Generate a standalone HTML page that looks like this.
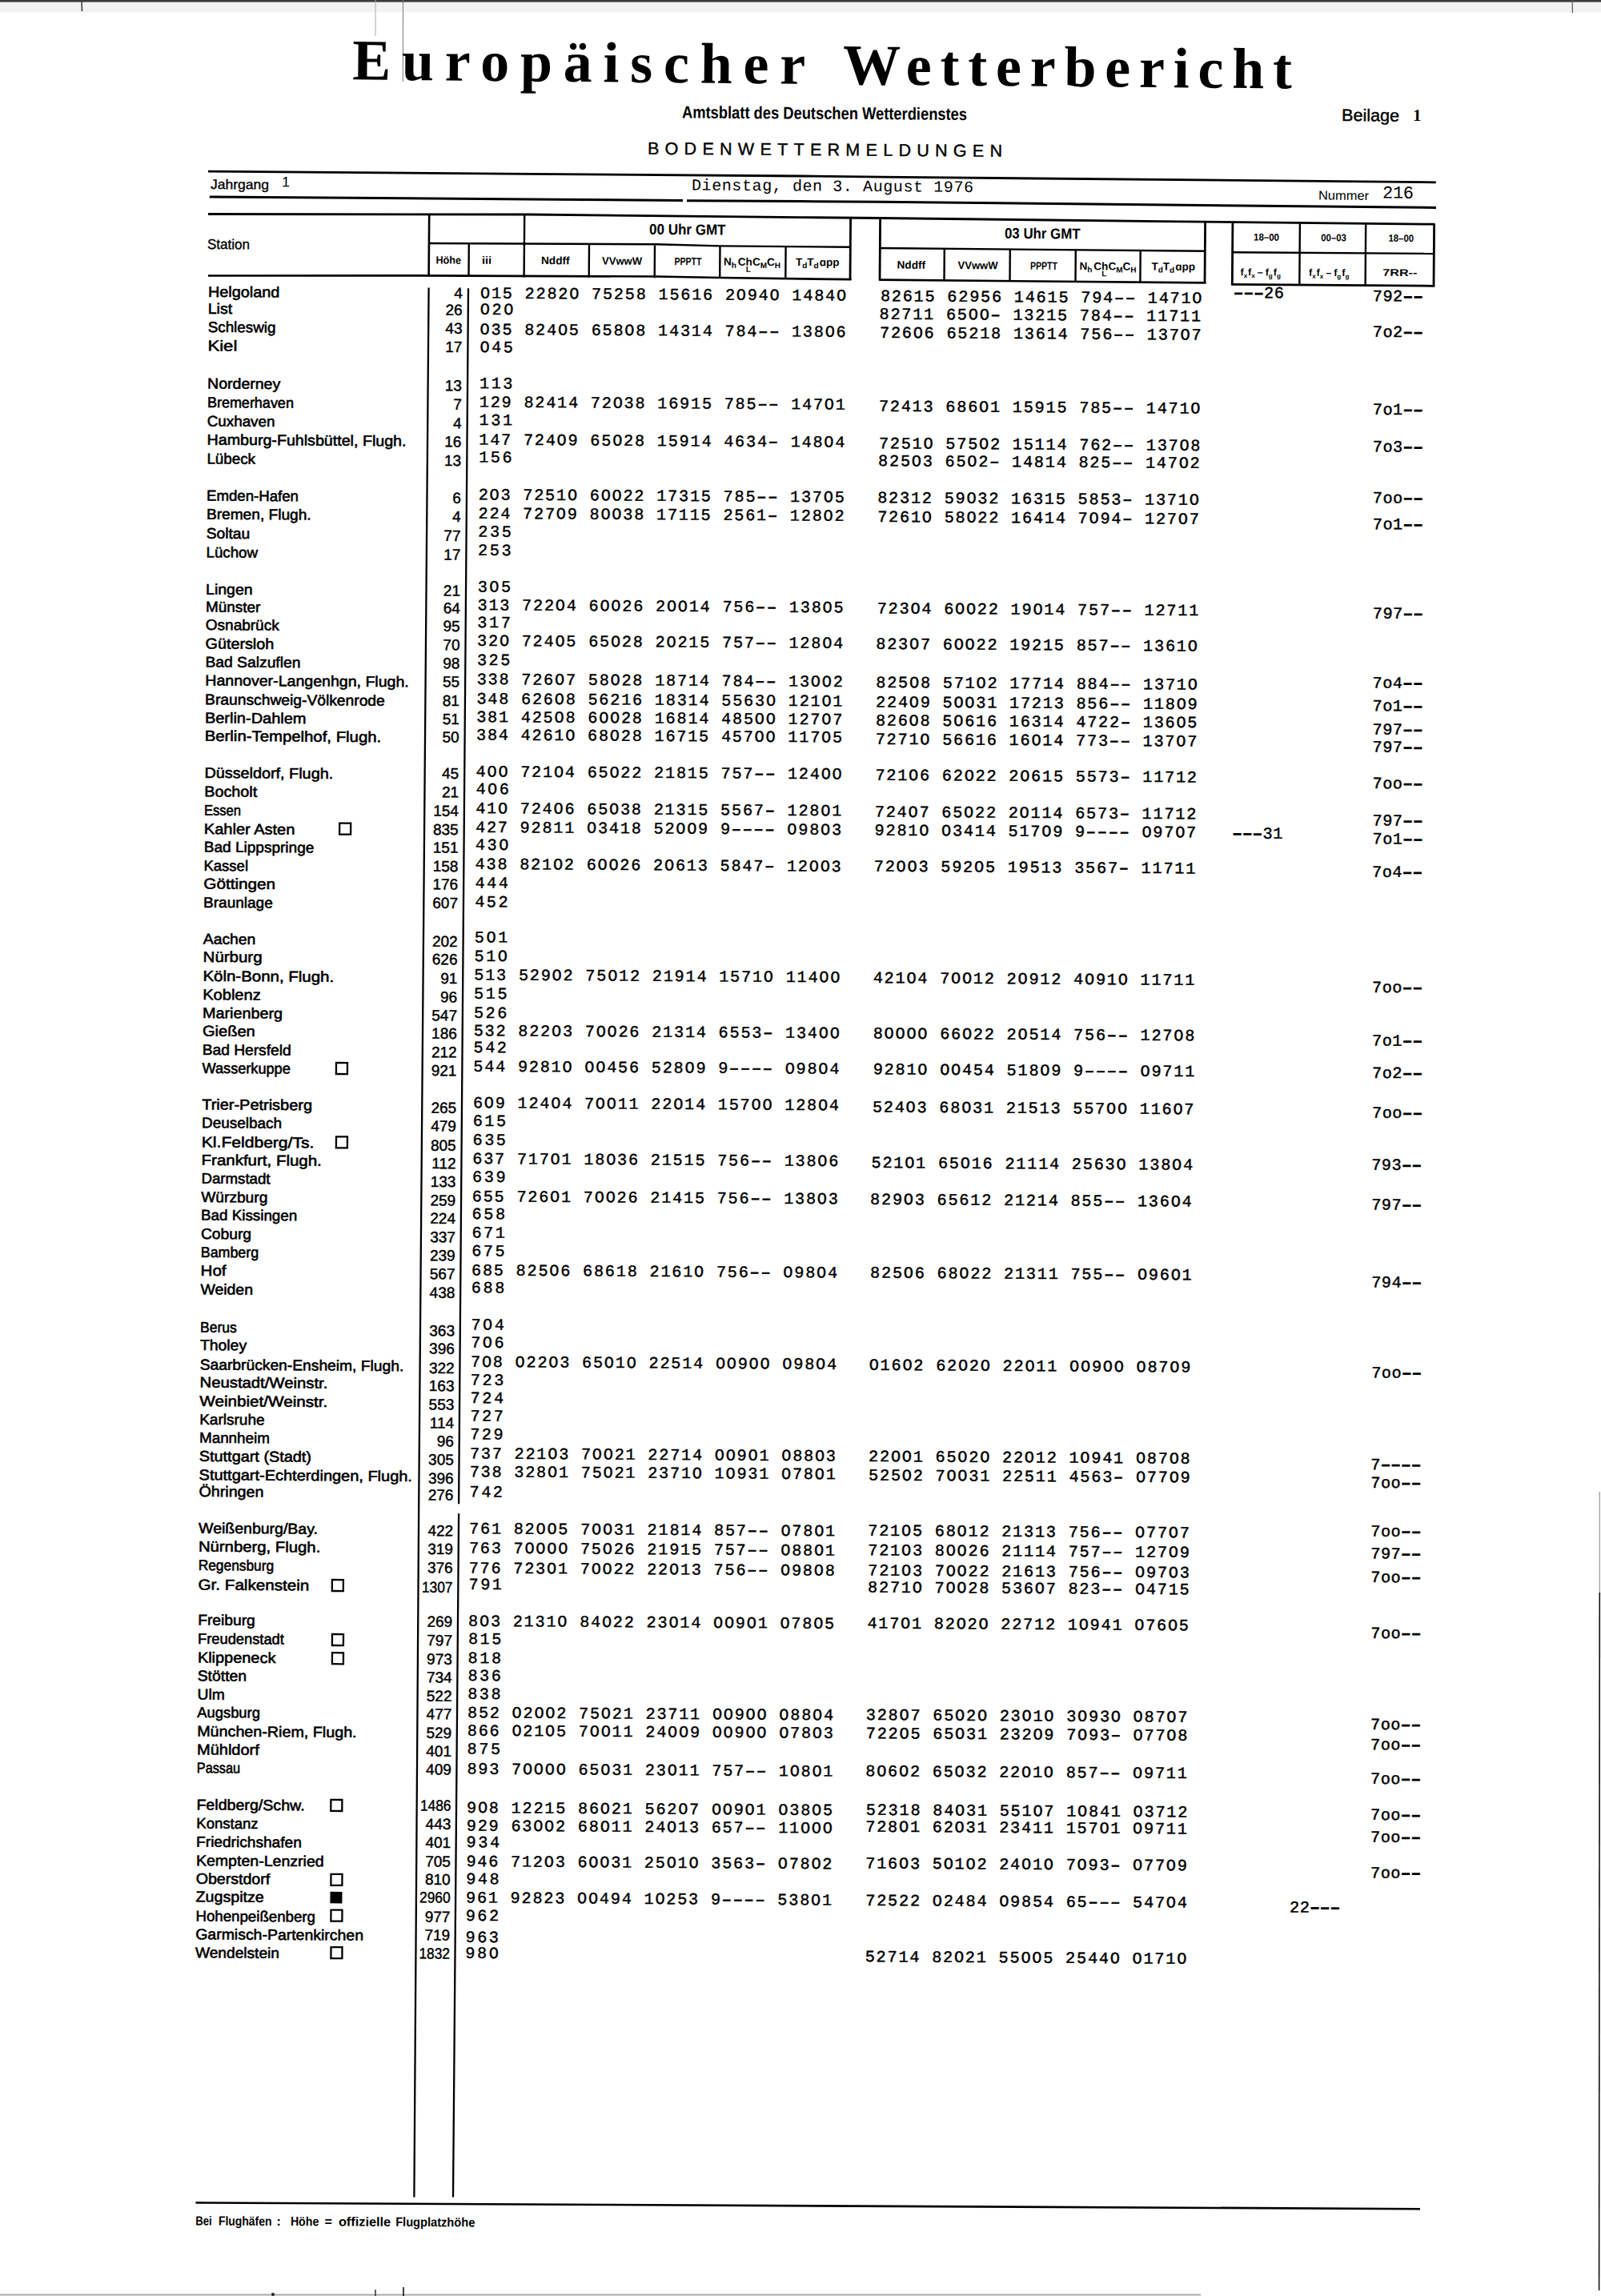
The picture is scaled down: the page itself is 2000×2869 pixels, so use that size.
<!DOCTYPE html>
<html><head><meta charset="utf-8"><title>Europäischer Wetterbericht</title>
<style>
html,body{margin:0;padding:0;background:#fff;}
svg{display:block;}
text{fill:#000;}
.title{font-family:"Liberation Serif",serif;font-weight:bold;font-size:72px;}
.amts{font-family:"Liberation Sans",sans-serif;font-weight:bold;font-size:21.5px;}
.boden{font-family:"Liberation Sans",sans-serif;font-size:21.5px;stroke:#000;stroke-width:0.4px;}
.beil{font-family:"Liberation Sans",sans-serif;font-size:21px;stroke:#000;stroke-width:0.4px;}
.beil1{font-family:"Liberation Serif",serif;font-size:21px;font-weight:bold;}
.jahr{font-family:"Liberation Sans",sans-serif;font-size:17px;stroke:#000;stroke-width:0.35px;}
.jahr1{font-family:"Liberation Sans",sans-serif;font-size:18px;}
.date{font-family:"Liberation Mono",monospace;font-size:20px;}
.numm{font-family:"Liberation Sans",sans-serif;font-size:16px;}
.n216{font-family:"Liberation Mono",monospace;font-size:22px;}
.stat{font-family:"Liberation Sans",sans-serif;font-size:17.5px;stroke:#000;stroke-width:0.35px;}
.hl{font-family:"Liberation Sans",sans-serif;font-weight:bold;font-size:13.5px;}
.sub{font-size:10px;}
.sub2{font-size:8px;}
.gmt{font-family:"Liberation Sans",sans-serif;font-weight:bold;font-size:18.5px;}
.bx{font-family:"Liberation Sans",sans-serif;font-weight:bold;font-size:12.5px;}
.bx2{font-family:"Liberation Sans",sans-serif;font-weight:bold;font-size:12.5px;}
.st{font-family:"Liberation Sans",sans-serif;font-size:18.5px;stroke:#000;stroke-width:0.6px;}
.ho{font-family:"Liberation Sans",sans-serif;font-size:19px;stroke:#000;stroke-width:0.45px;}
.mo,.m3,.rr{font-family:"Liberation Mono",monospace;font-size:20.2px;stroke:#000;stroke-width:0.4px;}
.m3{stroke-width:0.45px;}
.d{stroke-width:0.9px;}
.d2{stroke-width:1.4px;}
.rr{stroke-width:0.45px;}
.foot{font-family:"Liberation Sans",sans-serif;font-weight:bold;font-size:16px;}
</style></head>
<body><svg width="2000" height="2869" viewBox="0 0 2000 2869">
<rect x="0" y="2.5" width="2000" height="13" fill="#f3f3f3"/>
<rect x="0" y="0" width="2000" height="2.6" fill="#3c3c3c"/>
<line x1="102.0" y1="2.0" x2="102.5" y2="14.0" stroke="#333" stroke-width="1.5"/>
<line x1="503.5" y1="0.0" x2="503.3" y2="102.0" stroke="#777" stroke-width="1.0"/>
<line x1="469.0" y1="0.0" x2="469.0" y2="45.0" stroke="#aaa" stroke-width="1.0"/>
<line x1="0.0" y1="2867.6" x2="1500.0" y2="2867.6" stroke="#aaa" stroke-width="2.0"/>
<line x1="1998.3" y1="1864.0" x2="1998.3" y2="1990.0" stroke="#999" stroke-width="1.2"/>
<line x1="1998.3" y1="1990.0" x2="1997.6" y2="2862.0" stroke="#111" stroke-width="1.6"/>
<line x1="1964.0" y1="0.0" x2="1964.5" y2="16.0" stroke="#555" stroke-width="1.2"/>
<line x1="469.0" y1="2861.0" x2="469.0" y2="2869.0" stroke="#222" stroke-width="1.4"/>
<line x1="504.0" y1="2858.0" x2="504.0" y2="2869.0" stroke="#111" stroke-width="1.6"/>
<circle cx="341" cy="2867" r="2" fill="#222"/>
<text x="440.0" y="99.3" class="title" textLength="566.0" lengthAdjust="spacing" transform="rotate(0.550 440.0 99.3)">Europäischer</text>
<text x="1052.7" y="105.2" class="title" textLength="561.0" lengthAdjust="spacing" transform="rotate(0.550 1052.7 105.2)">Wetterbericht</text>
<text x="852.0" y="147.5" class="amts" textLength="356.0" lengthAdjust="spacingAndGlyphs" transform="rotate(0.401 852.0 147.5)">Amtsblatt des Deutschen Wetterdienstes</text>
<text x="809.0" y="192.8" class="boden" textLength="443.0" lengthAdjust="spacing" transform="rotate(0.401 809.0 192.8)">BODENWETTERMELDUNGEN</text>
<text x="1676.0" y="151.0" class="beil" textLength="72.0" lengthAdjust="spacingAndGlyphs" transform="rotate(0.401 1676.0 151.0)">Beilage</text>
<text x="1765.0" y="151.0" class="beil1" transform="rotate(0.401 1765.0 151.0)">1</text>
<polyline points="260.0,214.2 660.0,217.4 1000.0,220.0 1100.0,221.1 1793.8,227.8" fill="none" stroke="#000" stroke-width="2.8"/>
<polyline points="261.8,246.0 660.0,249.0 853.0,250.6" fill="none" stroke="#000" stroke-width="3.0"/>
<polyline points="858.0,250.7 1000.0,251.6 1100.0,252.2 1794.0,259.5" fill="none" stroke="#000" stroke-width="3.0"/>
<text x="263.0" y="236.0" class="jahr" textLength="73.0" lengthAdjust="spacingAndGlyphs" transform="rotate(0.401 263.0 236.0)">Jahrgang</text>
<text x="352.0" y="233.2" class="jahr1" transform="rotate(0.401 352.0 233.2)">1</text>
<text x="864.0" y="237.5" class="date" textLength="352.0" lengthAdjust="spacing" transform="rotate(0.401 864.0 237.5)">Dienstag, den 3. August 1976</text>
<text x="1647.0" y="249.5" class="numm" textLength="63.0" lengthAdjust="spacingAndGlyphs" transform="rotate(0.401 1647.0 249.5)">Nummer</text>
<text x="1727.0" y="247.5" class="n216" textLength="39.0" lengthAdjust="spacing" transform="rotate(0.401 1727.0 247.5)">216</text>
<polyline points="260.0,267.5 660.0,268.0 1000.0,271.6 1100.0,272.5 1450.0,276.6 1792.5,280.2" fill="none" stroke="#000" stroke-width="2.8"/>
<text x="259.0" y="311.0" class="stat" textLength="53.0" lengthAdjust="spacingAndGlyphs" transform="rotate(0.401 259.0 311.0)">Station</text>
<polyline points="260.0,344.5 520.0,344.3 820.0,345.5 900.0,347.0 1063.5,349.2" fill="none" stroke="#000" stroke-width="2.7"/>
<line x1="1098.5" y1="349.6" x2="1506.5" y2="353.4" stroke="#000" stroke-width="2.6"/>
<line x1="1538.7" y1="355.3" x2="1792.4" y2="357.3" stroke="#000" stroke-width="2.8"/>
<polyline points="536.0,304.0 820.0,305.2 900.0,307.4 1063.0,308.8" fill="none" stroke="#000" stroke-width="2.4"/>
<line x1="1099.0" y1="310.0" x2="1506.0" y2="313.8" stroke="#000" stroke-width="2.4"/>
<line x1="1539.5" y1="315.2" x2="1792.0" y2="317.0" stroke="#000" stroke-width="2.4"/>
<line x1="536.2" y1="267.3" x2="535.6" y2="345.6" stroke="#000" stroke-width="2.6"/>
<line x1="585.8" y1="304.0" x2="585.5" y2="346.0" stroke="#000" stroke-width="2.4"/>
<line x1="655.2" y1="268.6" x2="654.6" y2="346.5" stroke="#000" stroke-width="2.4"/>
<line x1="736.0" y1="305.5" x2="735.7" y2="346.6" stroke="#000" stroke-width="2.4"/>
<line x1="818.0" y1="306.5" x2="817.7" y2="347.2" stroke="#000" stroke-width="2.4"/>
<line x1="899.5" y1="307.2" x2="899.2" y2="347.8" stroke="#000" stroke-width="2.4"/>
<line x1="981.6" y1="308.0" x2="981.3" y2="348.3" stroke="#000" stroke-width="2.4"/>
<line x1="1062.6" y1="272.0" x2="1062.0" y2="349.8" stroke="#000" stroke-width="2.8"/>
<line x1="1099.6" y1="272.5" x2="1099.0" y2="350.4" stroke="#000" stroke-width="2.8"/>
<line x1="1179.8" y1="310.2" x2="1179.5" y2="350.8" stroke="#000" stroke-width="2.4"/>
<line x1="1261.8" y1="310.8" x2="1261.5" y2="351.4" stroke="#000" stroke-width="2.4"/>
<line x1="1343.8" y1="311.5" x2="1343.5" y2="352.2" stroke="#000" stroke-width="2.4"/>
<line x1="1424.7" y1="312.2" x2="1424.4" y2="352.8" stroke="#000" stroke-width="2.4"/>
<line x1="1505.6" y1="276.3" x2="1505.0" y2="353.8" stroke="#000" stroke-width="2.8"/>
<line x1="1539.9" y1="278.8" x2="1539.3" y2="356.5" stroke="#000" stroke-width="2.8"/>
<line x1="1623.9" y1="279.5" x2="1623.3" y2="356.8" stroke="#000" stroke-width="2.4"/>
<line x1="1706.2" y1="280.0" x2="1705.6" y2="357.0" stroke="#000" stroke-width="2.4"/>
<line x1="1791.6" y1="280.0" x2="1791.0" y2="357.5" stroke="#000" stroke-width="2.8"/>
<text x="544.5" y="329.5" class="hl" textLength="31.5" lengthAdjust="spacingAndGlyphs" transform="rotate(0.401 544.5 329.5)">Höhe</text>
<text x="602.0" y="329.8" class="hl" textLength="12.0" lengthAdjust="spacingAndGlyphs" transform="rotate(0.401 602.0 329.8)">iii</text>
<text x="676.0" y="330.0" class="hl" textLength="35.5" lengthAdjust="spacingAndGlyphs" transform="rotate(0.401 676.0 330.0)">Nddff</text>
<text x="752.0" y="330.6" class="hl" textLength="50.0" lengthAdjust="spacingAndGlyphs" transform="rotate(0.401 752.0 330.6)">VVwwW</text>
<text x="842.5" y="331.2" class="hl" textLength="34.0" lengthAdjust="spacingAndGlyphs" transform="rotate(0.401 842.5 331.2)">PPPTT</text>
<text x="904.0" y="331.6" class="hl" transform="rotate(0.401 904.0 331.6)">N<tspan class="sub" dy="3">h</tspan><tspan dy="-3" dx="2">C</tspan>h<tspan class="sub" dx="-8" dy="8">L</tspan><tspan dy="-8" dx="2">C</tspan><tspan class="sub" dy="3">M</tspan><tspan dy="-3">C</tspan><tspan class="sub" dy="3">H</tspan></text>
<text x="994.0" y="332.0" class="hl" transform="rotate(0.401 994.0 332.0)">T<tspan class="sub" dy="3">d</tspan><tspan dy="-3">T</tspan><tspan class="sub" dy="3">d</tspan><tspan dy="-3" dx="1">ɑpp</tspan></text>
<text x="1120.5" y="335.5" class="hl" textLength="35.5" lengthAdjust="spacingAndGlyphs" transform="rotate(0.401 1120.5 335.5)">Nddff</text>
<text x="1196.5" y="336.1" class="hl" textLength="50.0" lengthAdjust="spacingAndGlyphs" transform="rotate(0.401 1196.5 336.1)">VVwwW</text>
<text x="1287.0" y="336.7" class="hl" textLength="34.0" lengthAdjust="spacingAndGlyphs" transform="rotate(0.401 1287.0 336.7)">PPPTT</text>
<text x="1348.5" y="337.1" class="hl" transform="rotate(0.401 1348.5 337.1)">N<tspan class="sub" dy="3">h</tspan><tspan dy="-3" dx="2">C</tspan>h<tspan class="sub" dx="-8" dy="8">L</tspan><tspan dy="-8" dx="2">C</tspan><tspan class="sub" dy="3">M</tspan><tspan dy="-3">C</tspan><tspan class="sub" dy="3">H</tspan></text>
<text x="1438.5" y="337.5" class="hl" transform="rotate(0.401 1438.5 337.5)">T<tspan class="sub" dy="3">d</tspan><tspan dy="-3">T</tspan><tspan class="sub" dy="3">d</tspan><tspan dy="-3" dx="1">ɑpp</tspan></text>
<text x="811.0" y="292.8" class="gmt" textLength="95.5" lengthAdjust="spacingAndGlyphs" transform="rotate(0.401 811.0 292.8)">00 Uhr GMT</text>
<text x="1255.0" y="297.8" class="gmt" textLength="94.5" lengthAdjust="spacingAndGlyphs" transform="rotate(0.401 1255.0 297.8)">03 Uhr GMT</text>
<text x="1566.0" y="300.5" class="bx" textLength="32.0" lengthAdjust="spacingAndGlyphs" transform="rotate(0.401 1566.0 300.5)">18–00</text>
<text x="1650.3" y="301.2" class="bx" textLength="31.5" lengthAdjust="spacingAndGlyphs" transform="rotate(0.401 1650.3 301.2)">00–03</text>
<text x="1734.5" y="301.8" class="bx" textLength="31.5" lengthAdjust="spacingAndGlyphs" transform="rotate(0.401 1734.5 301.8)">18–00</text>
<text x="1549.5" y="344.2" class="bx2" transform="rotate(0.401 1549.5 344.2)">f<tspan class="sub2" dy="3">x</tspan><tspan dy="-3" dx="1">f</tspan><tspan class="sub2" dy="3">x</tspan><tspan dy="-3" dx="3">–</tspan><tspan dx="3">f</tspan><tspan class="sub2" dy="3">g</tspan><tspan dy="-3" dx="1">f</tspan><tspan class="sub2" dy="3">g</tspan></text>
<text x="1635.0" y="344.8" class="bx2" transform="rotate(0.401 1635.0 344.8)">f<tspan class="sub2" dy="3">x</tspan><tspan dy="-3" dx="1">f</tspan><tspan class="sub2" dy="3">x</tspan><tspan dy="-3" dx="3">–</tspan><tspan dx="3">f</tspan><tspan class="sub2" dy="3">g</tspan><tspan dy="-3" dx="1">f</tspan><tspan class="sub2" dy="3">g</tspan></text>
<text x="1727.3" y="344.8" class="bx" textLength="43.0" lengthAdjust="spacingAndGlyphs" transform="rotate(0.401 1727.3 344.8)">7RR--</text>
<text x="260.0" y="370.9" class="st" textLength="89.3" lengthAdjust="spacingAndGlyphs" transform="rotate(0.401 260.0 370.9)">Helgoland</text>
<text x="577.8" y="372.8" class="ho" text-anchor="end" transform="rotate(0.401 577.8 372.8)">4</text>
<text x="600.0" y="372.5" class="mo" textLength="457.1" lengthAdjust="spacing" transform="rotate(0.401 600.0 372.5)">O15 2282O 75258 15616 2O94O 1484O</text>
<text x="259.8" y="391.9" class="st" textLength="30.3" lengthAdjust="spacingAndGlyphs" transform="rotate(0.401 259.8 391.9)">List</text>
<text x="577.6" y="393.8" class="ho" text-anchor="end" transform="rotate(0.401 577.6 393.8)">26</text>
<text x="599.8" y="392.8" class="mo" textLength="41.5" lengthAdjust="spacing" transform="rotate(0.401 599.8 392.8)">O2O</text>
<text x="259.7" y="414.9" class="st" textLength="84.7" lengthAdjust="spacingAndGlyphs" transform="rotate(0.401 259.7 414.9)">Schleswig</text>
<text x="577.5" y="416.8" class="ho" text-anchor="end" transform="rotate(0.401 577.5 416.8)">43</text>
<text x="599.6" y="417.8" class="mo" textLength="457.1" lengthAdjust="spacing" transform="rotate(0.401 599.6 417.8)">O35 824O5 658O8 14314 784<tspan class="d">––</tspan> 138O6</text>
<text x="259.5" y="438.3" class="st" textLength="36.8" lengthAdjust="spacingAndGlyphs" transform="rotate(0.401 259.5 438.3)">Kiel</text>
<text x="577.3" y="440.2" class="ho" text-anchor="end" transform="rotate(0.401 577.3 440.2)">17</text>
<text x="599.4" y="440.0" class="mo" textLength="41.5" lengthAdjust="spacing" transform="rotate(0.401 599.4 440.0)">O45</text>
<text x="259.1" y="485.5" class="st" textLength="91.1" lengthAdjust="spacingAndGlyphs" transform="rotate(0.401 259.1 485.5)">Norderney</text>
<text x="576.9" y="488.3" class="ho" text-anchor="end" transform="rotate(0.401 576.9 488.3)">13</text>
<text x="599.0" y="485.2" class="mo" textLength="41.5" lengthAdjust="spacing" transform="rotate(0.401 599.0 485.2)">113</text>
<text x="258.9" y="509.1" class="st" textLength="108.0" lengthAdjust="spacingAndGlyphs" transform="rotate(0.401 258.9 509.1)">Bremerhaven</text>
<text x="576.8" y="511.9" class="ho" text-anchor="end" transform="rotate(0.401 576.8 511.9)">7</text>
<text x="598.8" y="508.6" class="mo" textLength="457.1" lengthAdjust="spacing" transform="rotate(0.401 598.8 508.6)">129 82414 72O38 16915 785<tspan class="d">––</tspan> 147O1</text>
<text x="258.8" y="532.5" class="st" textLength="84.6" lengthAdjust="spacingAndGlyphs" transform="rotate(0.401 258.8 532.5)">Cuxhaven</text>
<text x="576.6" y="535.3" class="ho" text-anchor="end" transform="rotate(0.401 576.6 535.3)">4</text>
<text x="598.6" y="531.1" class="mo" textLength="41.5" lengthAdjust="spacing" transform="rotate(0.401 598.6 531.1)">131</text>
<text x="258.6" y="555.7" class="st" textLength="248.9" lengthAdjust="spacingAndGlyphs" transform="rotate(0.401 258.6 555.7)">Hamburg-Fuhlsbüttel, Flugh.</text>
<text x="576.4" y="558.5" class="ho" text-anchor="end" transform="rotate(0.401 576.4 558.5)">16</text>
<text x="598.3" y="555.6" class="mo" textLength="457.1" lengthAdjust="spacing" transform="rotate(0.401 598.3 555.6)">147 724O9 65O28 15914 4634<tspan class="d">–</tspan> 148O4</text>
<text x="258.4" y="579.4" class="st" textLength="60.6" lengthAdjust="spacingAndGlyphs" transform="rotate(0.401 258.4 579.4)">Lübeck</text>
<text x="576.2" y="582.2" class="ho" text-anchor="end" transform="rotate(0.401 576.2 582.2)">13</text>
<text x="598.2" y="577.5" class="mo" textLength="41.5" lengthAdjust="spacing" transform="rotate(0.401 598.2 577.5)">156</text>
<text x="258.0" y="625.6" class="st" textLength="114.9" lengthAdjust="spacingAndGlyphs" transform="rotate(0.401 258.0 625.6)">Emden-Hafen</text>
<text x="575.9" y="628.9" class="ho" text-anchor="end" transform="rotate(0.401 575.9 628.9)">6</text>
<text x="597.7" y="624.3" class="mo" textLength="457.1" lengthAdjust="spacing" transform="rotate(0.401 597.7 624.3)">2O3 7251O 6OO22 17315 785<tspan class="d">––</tspan> 137O5</text>
<text x="257.9" y="648.7" class="st" textLength="130.8" lengthAdjust="spacingAndGlyphs" transform="rotate(0.401 257.9 648.7)">Bremen, Flugh.</text>
<text x="575.7" y="652.0" class="ho" text-anchor="end" transform="rotate(0.401 575.7 652.0)">4</text>
<text x="597.5" y="647.7" class="mo" textLength="457.1" lengthAdjust="spacing" transform="rotate(0.401 597.5 647.7)">224 727O9 8OO38 17115 2561<tspan class="d">–</tspan> 128O2</text>
<text x="257.7" y="672.7" class="st" textLength="54.5" lengthAdjust="spacingAndGlyphs" transform="rotate(0.401 257.7 672.7)">Soltau</text>
<text x="575.5" y="676.0" class="ho" text-anchor="end" transform="rotate(0.401 575.5 676.0)">77</text>
<text x="597.3" y="670.5" class="mo" textLength="41.5" lengthAdjust="spacing" transform="rotate(0.401 597.3 670.5)">235</text>
<text x="257.5" y="696.4" class="st" textLength="64.5" lengthAdjust="spacingAndGlyphs" transform="rotate(0.401 257.5 696.4)">Lüchow</text>
<text x="575.3" y="699.7" class="ho" text-anchor="end" transform="rotate(0.401 575.3 699.7)">17</text>
<text x="597.1" y="693.7" class="mo" textLength="41.5" lengthAdjust="spacing" transform="rotate(0.401 597.1 693.7)">253</text>
<text x="257.1" y="742.7" class="st" textLength="58.5" lengthAdjust="spacingAndGlyphs" transform="rotate(0.401 257.1 742.7)">Lingen</text>
<text x="575.0" y="744.6" class="ho" text-anchor="end" transform="rotate(0.401 575.0 744.6)">21</text>
<text x="596.7" y="739.4" class="mo" textLength="41.5" lengthAdjust="spacing" transform="rotate(0.401 596.7 739.4)">3O5</text>
<text x="257.0" y="764.6" class="st" textLength="68.3" lengthAdjust="spacingAndGlyphs" transform="rotate(0.401 257.0 764.6)">Münster</text>
<text x="574.8" y="766.5" class="ho" text-anchor="end" transform="rotate(0.401 574.8 766.5)">64</text>
<text x="596.5" y="762.2" class="mo" textLength="457.1" lengthAdjust="spacing" transform="rotate(0.401 596.5 762.2)">313 722O4 6OO26 2OO14 756<tspan class="d">––</tspan> 138O5</text>
<text x="256.8" y="787.1" class="st" textLength="91.9" lengthAdjust="spacingAndGlyphs" transform="rotate(0.401 256.8 787.1)">Osnabrück</text>
<text x="574.6" y="789.0" class="ho" text-anchor="end" transform="rotate(0.401 574.6 789.0)">95</text>
<text x="596.3" y="784.0" class="mo" textLength="41.5" lengthAdjust="spacing" transform="rotate(0.401 596.3 784.0)">317</text>
<text x="256.6" y="810.5" class="st" textLength="85.6" lengthAdjust="spacingAndGlyphs" transform="rotate(0.401 256.6 810.5)">Gütersloh</text>
<text x="574.5" y="812.4" class="ho" text-anchor="end" transform="rotate(0.401 574.5 812.4)">70</text>
<text x="596.1" y="806.8" class="mo" textLength="457.1" lengthAdjust="spacing" transform="rotate(0.401 596.1 806.8)">32O 724O5 65O28 2O215 757<tspan class="d">––</tspan> 128O4</text>
<text x="256.4" y="833.4" class="st" textLength="119.1" lengthAdjust="spacingAndGlyphs" transform="rotate(0.401 256.4 833.4)">Bad Salzuflen</text>
<text x="574.3" y="835.3" class="ho" text-anchor="end" transform="rotate(0.401 574.3 835.3)">98</text>
<text x="595.9" y="830.9" class="mo" textLength="41.5" lengthAdjust="spacing" transform="rotate(0.401 595.9 830.9)">325</text>
<text x="256.3" y="856.5" class="st" textLength="254.5" lengthAdjust="spacingAndGlyphs" transform="rotate(0.401 256.3 856.5)">Hannover-Langenhgn, Flugh.</text>
<text x="574.1" y="858.4" class="ho" text-anchor="end" transform="rotate(0.401 574.1 858.4)">55</text>
<text x="595.7" y="854.9" class="mo" textLength="457.1" lengthAdjust="spacing" transform="rotate(0.401 595.7 854.9)">338 726O7 58O28 18714 784<tspan class="d">––</tspan> 13OO2</text>
<text x="256.1" y="880.3" class="st" textLength="224.7" lengthAdjust="spacingAndGlyphs" transform="rotate(0.401 256.1 880.3)">Braunschweig-Völkenrode</text>
<text x="573.9" y="882.2" class="ho" text-anchor="end" transform="rotate(0.401 573.9 882.2)">81</text>
<text x="595.4" y="879.3" class="mo" textLength="457.1" lengthAdjust="spacing" transform="rotate(0.401 595.4 879.3)">348 626O8 56216 18314 5563O 121O1</text>
<text x="255.9" y="903.3" class="st" textLength="126.6" lengthAdjust="spacingAndGlyphs" transform="rotate(0.401 255.9 903.3)">Berlin-Dahlem</text>
<text x="573.8" y="905.2" class="ho" text-anchor="end" transform="rotate(0.401 573.8 905.2)">51</text>
<text x="595.2" y="902.1" class="mo" textLength="457.1" lengthAdjust="spacing" transform="rotate(0.401 595.2 902.1)">381 425O8 6OO28 16814 485OO 127O7</text>
<text x="255.7" y="925.8" class="st" textLength="220.5" lengthAdjust="spacingAndGlyphs" transform="rotate(0.401 255.7 925.8)">Berlin-Tempelhof, Flugh.</text>
<text x="573.6" y="927.7" class="ho" text-anchor="end" transform="rotate(0.401 573.6 927.7)">50</text>
<text x="595.0" y="924.4" class="mo" textLength="457.1" lengthAdjust="spacing" transform="rotate(0.401 595.0 924.4)">384 4261O 68O28 16715 457OO 117O5</text>
<text x="255.4" y="971.9" class="st" textLength="160.8" lengthAdjust="spacingAndGlyphs" transform="rotate(0.401 255.4 971.9)">Düsseldorf, Flugh.</text>
<text x="573.2" y="973.0" class="ho" text-anchor="end" transform="rotate(0.401 573.2 973.0)">45</text>
<text x="594.6" y="970.3" class="mo" textLength="457.1" lengthAdjust="spacing" transform="rotate(0.401 594.6 970.3)">4OO 721O4 65O22 21815 757<tspan class="d">––</tspan> 124OO</text>
<text x="255.2" y="995.3" class="st" textLength="66.0" lengthAdjust="spacingAndGlyphs" transform="rotate(0.401 255.2 995.3)">Bocholt</text>
<text x="573.1" y="996.4" class="ho" text-anchor="end" transform="rotate(0.401 573.1 996.4)">21</text>
<text x="594.4" y="992.1" class="mo" textLength="41.5" lengthAdjust="spacing" transform="rotate(0.401 594.4 992.1)">4O6</text>
<text x="255.0" y="1018.7" class="st" textLength="46.0" lengthAdjust="spacingAndGlyphs" transform="rotate(0.401 255.0 1018.7)">Essen</text>
<text x="572.9" y="1019.8" class="ho" text-anchor="end" transform="rotate(0.401 572.9 1019.8)">154</text>
<text x="594.2" y="1016.2" class="mo" textLength="457.1" lengthAdjust="spacing" transform="rotate(0.401 594.2 1016.2)">41O 724O6 65O38 21315 5567<tspan class="d">–</tspan> 128O1</text>
<text x="254.8" y="1042.1" class="st" textLength="113.6" lengthAdjust="spacingAndGlyphs" transform="rotate(0.401 254.8 1042.1)">Kahler Asten</text>
<text x="572.7" y="1043.2" class="ho" text-anchor="end" transform="rotate(0.401 572.7 1043.2)">835</text>
<text x="594.0" y="1039.9" class="mo" textLength="457.1" lengthAdjust="spacing" transform="rotate(0.401 594.0 1039.9)">427 92811 O3418 52OO9 9<tspan class="d">––––</tspan> O98O3</text>
<rect x="424.2" y="1028.6" width="14" height="14" fill="none" stroke="#000" stroke-width="2.3" transform="rotate(0.401 423.2 1028.0)"/>
<text x="254.7" y="1064.6" class="st" textLength="137.7" lengthAdjust="spacingAndGlyphs" transform="rotate(0.401 254.7 1064.6)">Bad Lippspringe</text>
<text x="572.5" y="1065.7" class="ho" text-anchor="end" transform="rotate(0.401 572.5 1065.7)">151</text>
<text x="593.8" y="1061.8" class="mo" textLength="41.5" lengthAdjust="spacing" transform="rotate(0.401 593.8 1061.8)">43O</text>
<text x="254.5" y="1088.0" class="st" textLength="55.5" lengthAdjust="spacingAndGlyphs" transform="rotate(0.401 254.5 1088.0)">Kassel</text>
<text x="572.4" y="1089.1" class="ho" text-anchor="end" transform="rotate(0.401 572.4 1089.1)">158</text>
<text x="593.6" y="1085.8" class="mo" textLength="457.1" lengthAdjust="spacing" transform="rotate(0.401 593.6 1085.8)">438 821O2 6OO26 2O613 5847<tspan class="d">–</tspan> 12OO3</text>
<text x="254.3" y="1110.5" class="st" textLength="89.8" lengthAdjust="spacingAndGlyphs" transform="rotate(0.401 254.3 1110.5)">Göttingen</text>
<text x="572.2" y="1111.6" class="ho" text-anchor="end" transform="rotate(0.401 572.2 1111.6)">176</text>
<text x="593.4" y="1109.4" class="mo" textLength="41.5" lengthAdjust="spacing" transform="rotate(0.401 593.4 1109.4)">444</text>
<text x="254.1" y="1133.9" class="st" textLength="86.6" lengthAdjust="spacingAndGlyphs" transform="rotate(0.401 254.1 1133.9)">Braunlage</text>
<text x="572.0" y="1135.0" class="ho" text-anchor="end" transform="rotate(0.401 572.0 1135.0)">607</text>
<text x="593.2" y="1133.1" class="mo" textLength="41.5" lengthAdjust="spacing" transform="rotate(0.401 593.2 1133.1)">452</text>
<text x="253.8" y="1179.6" class="st" textLength="65.5" lengthAdjust="spacingAndGlyphs" transform="rotate(0.401 253.8 1179.6)">Aachen</text>
<text x="571.7" y="1183.0" class="ho" text-anchor="end" transform="rotate(0.401 571.7 1183.0)">202</text>
<text x="592.8" y="1177.4" class="mo" textLength="41.5" lengthAdjust="spacing" transform="rotate(0.401 592.8 1177.4)">5O1</text>
<text x="253.6" y="1201.9" class="st" textLength="74.0" lengthAdjust="spacingAndGlyphs" transform="rotate(0.401 253.6 1201.9)">Nürburg</text>
<text x="571.5" y="1205.3" class="ho" text-anchor="end" transform="rotate(0.401 571.5 1205.3)">626</text>
<text x="592.5" y="1200.9" class="mo" textLength="41.5" lengthAdjust="spacing" transform="rotate(0.401 592.5 1200.9)">51O</text>
<text x="253.4" y="1225.8" class="st" textLength="163.7" lengthAdjust="spacingAndGlyphs" transform="rotate(0.401 253.4 1225.8)">Köln-Bonn, Flugh.</text>
<text x="571.3" y="1229.2" class="ho" text-anchor="end" transform="rotate(0.401 571.3 1229.2)">91</text>
<text x="592.3" y="1224.3" class="mo" textLength="457.1" lengthAdjust="spacing" transform="rotate(0.401 592.3 1224.3)">513 529O2 75O12 21914 1571O 114OO</text>
<text x="253.2" y="1249.1" class="st" textLength="72.5" lengthAdjust="spacingAndGlyphs" transform="rotate(0.401 253.2 1249.1)">Koblenz</text>
<text x="571.1" y="1252.5" class="ho" text-anchor="end" transform="rotate(0.401 571.1 1252.5)">96</text>
<text x="592.1" y="1247.7" class="mo" textLength="41.5" lengthAdjust="spacing" transform="rotate(0.401 592.1 1247.7)">515</text>
<text x="253.1" y="1272.1" class="st" textLength="99.9" lengthAdjust="spacingAndGlyphs" transform="rotate(0.401 253.1 1272.1)">Marienberg</text>
<text x="571.0" y="1275.5" class="ho" text-anchor="end" transform="rotate(0.401 571.0 1275.5)">547</text>
<text x="591.9" y="1271.8" class="mo" textLength="41.5" lengthAdjust="spacing" transform="rotate(0.401 591.9 1271.8)">526</text>
<text x="252.9" y="1294.6" class="st" textLength="65.9" lengthAdjust="spacingAndGlyphs" transform="rotate(0.401 252.9 1294.6)">Gießen</text>
<text x="570.8" y="1298.0" class="ho" text-anchor="end" transform="rotate(0.401 570.8 1298.0)">186</text>
<text x="591.7" y="1294.1" class="mo" textLength="457.1" lengthAdjust="spacing" transform="rotate(0.401 591.7 1294.1)">532 822O3 7OO26 21314 6553<tspan class="d">–</tspan> 134OO</text>
<text x="252.7" y="1318.0" class="st" textLength="111.0" lengthAdjust="spacingAndGlyphs" transform="rotate(0.401 252.7 1318.0)">Bad Hersfeld</text>
<text x="570.6" y="1321.4" class="ho" text-anchor="end" transform="rotate(0.401 570.6 1321.4)">212</text>
<text x="591.5" y="1315.0" class="mo" textLength="41.5" lengthAdjust="spacing" transform="rotate(0.401 591.5 1315.0)">542</text>
<text x="252.5" y="1340.9" class="st" textLength="110.3" lengthAdjust="spacingAndGlyphs" transform="rotate(0.401 252.5 1340.9)">Wasserkuppe</text>
<text x="570.4" y="1344.3" class="ho" text-anchor="end" transform="rotate(0.401 570.4 1344.3)">921</text>
<text x="591.3" y="1338.7" class="mo" textLength="457.1" lengthAdjust="spacing" transform="rotate(0.401 591.3 1338.7)">544 9281O OO456 528O9 9<tspan class="d">––––</tspan> O98O4</text>
<rect x="420.0" y="1328.0" width="14" height="14" fill="none" stroke="#000" stroke-width="2.3" transform="rotate(0.401 419.0 1327.4)"/>
<text x="252.2" y="1386.4" class="st" textLength="137.8" lengthAdjust="spacingAndGlyphs" transform="rotate(0.401 252.2 1386.4)">Trier-Petrisberg</text>
<text x="570.1" y="1390.9" class="ho" text-anchor="end" transform="rotate(0.401 570.1 1390.9)">265</text>
<text x="590.9" y="1384.2" class="mo" textLength="457.1" lengthAdjust="spacing" transform="rotate(0.401 590.9 1384.2)">6O9 124O4 7OO11 22O14 157OO 128O4</text>
<text x="252.0" y="1409.2" class="st" textLength="99.9" lengthAdjust="spacingAndGlyphs" transform="rotate(0.401 252.0 1409.2)">Deuselbach</text>
<text x="569.9" y="1413.7" class="ho" text-anchor="end" transform="rotate(0.401 569.9 1413.7)">479</text>
<text x="590.7" y="1406.8" class="mo" textLength="41.5" lengthAdjust="spacing" transform="rotate(0.401 590.7 1406.8)">615</text>
<text x="251.8" y="1433.4" class="st" textLength="140.6" lengthAdjust="spacingAndGlyphs" transform="rotate(0.401 251.8 1433.4)">Kl.Feldberg/Ts.</text>
<text x="569.7" y="1437.9" class="ho" text-anchor="end" transform="rotate(0.401 569.7 1437.9)">805</text>
<text x="590.5" y="1430.5" class="mo" textLength="41.5" lengthAdjust="spacing" transform="rotate(0.401 590.5 1430.5)">635</text>
<rect x="420.0" y="1420.3" width="14" height="14" fill="none" stroke="#000" stroke-width="2.3" transform="rotate(0.401 419.0 1419.7)"/>
<text x="251.6" y="1455.8" class="st" textLength="150.2" lengthAdjust="spacingAndGlyphs" transform="rotate(0.401 251.6 1455.8)">Frankfurt, Flugh.</text>
<text x="569.6" y="1460.3" class="ho" text-anchor="end" transform="rotate(0.401 569.6 1460.3)">112</text>
<text x="590.3" y="1454.0" class="mo" textLength="457.1" lengthAdjust="spacing" transform="rotate(0.401 590.3 1454.0)">637 717O1 18O36 21515 756<tspan class="d">––</tspan> 138O6</text>
<text x="251.5" y="1478.7" class="st" textLength="86.0" lengthAdjust="spacingAndGlyphs" transform="rotate(0.401 251.5 1478.7)">Darmstadt</text>
<text x="569.4" y="1483.2" class="ho" text-anchor="end" transform="rotate(0.401 569.4 1483.2)">133</text>
<text x="590.1" y="1476.7" class="mo" textLength="41.5" lengthAdjust="spacing" transform="rotate(0.401 590.1 1476.7)">639</text>
<text x="251.3" y="1502.1" class="st" textLength="83.0" lengthAdjust="spacingAndGlyphs" transform="rotate(0.401 251.3 1502.1)">Würzburg</text>
<text x="569.2" y="1506.6" class="ho" text-anchor="end" transform="rotate(0.401 569.2 1506.6)">259</text>
<text x="589.8" y="1501.2" class="mo" textLength="457.1" lengthAdjust="spacing" transform="rotate(0.401 589.8 1501.2)">655 726O1 7OO26 21415 756<tspan class="d">––</tspan> 138O3</text>
<text x="251.1" y="1524.6" class="st" textLength="120.1" lengthAdjust="spacingAndGlyphs" transform="rotate(0.401 251.1 1524.6)">Bad Kissingen</text>
<text x="569.0" y="1529.1" class="ho" text-anchor="end" transform="rotate(0.401 569.0 1529.1)">224</text>
<text x="589.6" y="1523.1" class="mo" textLength="41.5" lengthAdjust="spacing" transform="rotate(0.401 589.6 1523.1)">658</text>
<text x="250.9" y="1548.0" class="st" textLength="63.2" lengthAdjust="spacingAndGlyphs" transform="rotate(0.401 250.9 1548.0)">Coburg</text>
<text x="568.9" y="1552.5" class="ho" text-anchor="end" transform="rotate(0.401 568.9 1552.5)">337</text>
<text x="589.4" y="1546.5" class="mo" textLength="41.5" lengthAdjust="spacing" transform="rotate(0.401 589.4 1546.5)">671</text>
<text x="250.8" y="1570.9" class="st" textLength="72.3" lengthAdjust="spacingAndGlyphs" transform="rotate(0.401 250.8 1570.9)">Bamberg</text>
<text x="568.7" y="1575.4" class="ho" text-anchor="end" transform="rotate(0.401 568.7 1575.4)">239</text>
<text x="589.2" y="1569.3" class="mo" textLength="41.5" lengthAdjust="spacing" transform="rotate(0.401 589.2 1569.3)">675</text>
<text x="250.6" y="1593.9" class="st" textLength="32.0" lengthAdjust="spacingAndGlyphs" transform="rotate(0.401 250.6 1593.9)">Hof</text>
<text x="568.5" y="1598.4" class="ho" text-anchor="end" transform="rotate(0.401 568.5 1598.4)">567</text>
<text x="589.0" y="1593.4" class="mo" textLength="457.1" lengthAdjust="spacing" transform="rotate(0.401 589.0 1593.4)">685 825O6 68618 2161O 756<tspan class="d">––</tspan> O98O4</text>
<text x="250.4" y="1617.4" class="st" textLength="65.6" lengthAdjust="spacingAndGlyphs" transform="rotate(0.401 250.4 1617.4)">Weiden</text>
<text x="568.3" y="1621.9" class="ho" text-anchor="end" transform="rotate(0.401 568.3 1621.9)">438</text>
<text x="588.8" y="1615.2" class="mo" textLength="41.5" lengthAdjust="spacing" transform="rotate(0.401 588.8 1615.2)">688</text>
<text x="250.0" y="1664.7" class="st" textLength="45.7" lengthAdjust="spacingAndGlyphs" transform="rotate(0.401 250.0 1664.7)">Berus</text>
<text x="568.0" y="1669.4" class="ho" text-anchor="end" transform="rotate(0.401 568.0 1669.4)">363</text>
<text x="588.4" y="1661.5" class="mo" textLength="41.5" lengthAdjust="spacing" transform="rotate(0.401 588.4 1661.5)">7O4</text>
<text x="249.9" y="1687.1" class="st" textLength="58.2" lengthAdjust="spacingAndGlyphs" transform="rotate(0.401 249.9 1687.1)">Tholey</text>
<text x="567.8" y="1691.8" class="ho" text-anchor="end" transform="rotate(0.401 567.8 1691.8)">396</text>
<text x="588.2" y="1683.7" class="mo" textLength="41.5" lengthAdjust="spacing" transform="rotate(0.401 588.2 1683.7)">7O6</text>
<text x="249.7" y="1711.5" class="st" textLength="254.6" lengthAdjust="spacingAndGlyphs" transform="rotate(0.401 249.7 1711.5)">Saarbrücken-Ensheim, Flugh.</text>
<text x="567.6" y="1716.2" class="ho" text-anchor="end" transform="rotate(0.401 567.6 1716.2)">322</text>
<text x="588.0" y="1707.8" class="mo" textLength="457.1" lengthAdjust="spacing" transform="rotate(0.401 588.0 1707.8)">7O8 O22O3 65O1O 22514 OO9OO O98O4</text>
<text x="249.5" y="1733.6" class="st" textLength="159.8" lengthAdjust="spacingAndGlyphs" transform="rotate(0.401 249.5 1733.6)">Neustadt/Weinstr.</text>
<text x="567.5" y="1738.3" class="ho" text-anchor="end" transform="rotate(0.401 567.5 1738.3)">163</text>
<text x="587.8" y="1730.6" class="mo" textLength="41.5" lengthAdjust="spacing" transform="rotate(0.401 587.8 1730.6)">723</text>
<text x="249.3" y="1757.0" class="st" textLength="160.0" lengthAdjust="spacingAndGlyphs" transform="rotate(0.401 249.3 1757.0)">Weinbiet/Weinstr.</text>
<text x="567.3" y="1761.7" class="ho" text-anchor="end" transform="rotate(0.401 567.3 1761.7)">553</text>
<text x="587.6" y="1753.1" class="mo" textLength="41.5" lengthAdjust="spacing" transform="rotate(0.401 587.6 1753.1)">724</text>
<text x="249.2" y="1779.9" class="st" textLength="81.4" lengthAdjust="spacingAndGlyphs" transform="rotate(0.401 249.2 1779.9)">Karlsruhe</text>
<text x="567.1" y="1784.6" class="ho" text-anchor="end" transform="rotate(0.401 567.1 1784.6)">114</text>
<text x="587.4" y="1775.5" class="mo" textLength="41.5" lengthAdjust="spacing" transform="rotate(0.401 587.4 1775.5)">727</text>
<text x="249.0" y="1802.8" class="st" textLength="87.9" lengthAdjust="spacingAndGlyphs" transform="rotate(0.401 249.0 1802.8)">Mannheim</text>
<text x="566.9" y="1807.5" class="ho" text-anchor="end" transform="rotate(0.401 566.9 1807.5)">96</text>
<text x="587.2" y="1798.3" class="mo" textLength="41.5" lengthAdjust="spacing" transform="rotate(0.401 587.2 1798.3)">729</text>
<text x="248.8" y="1825.8" class="st" textLength="140.2" lengthAdjust="spacingAndGlyphs" transform="rotate(0.401 248.8 1825.8)">Stuttgart (Stadt)</text>
<text x="566.8" y="1830.5" class="ho" text-anchor="end" transform="rotate(0.401 566.8 1830.5)">305</text>
<text x="586.9" y="1822.4" class="mo" textLength="457.1" lengthAdjust="spacing" transform="rotate(0.401 586.9 1822.4)">737 221O3 7OO21 22714 OO9O1 O88O3</text>
<text x="248.6" y="1849.2" class="st" textLength="266.3" lengthAdjust="spacingAndGlyphs" transform="rotate(0.401 248.6 1849.2)">Stuttgart-Echterdingen, Flugh.</text>
<text x="566.6" y="1853.9" class="ho" text-anchor="end" transform="rotate(0.401 566.6 1853.9)">396</text>
<text x="586.7" y="1845.2" class="mo" textLength="457.1" lengthAdjust="spacing" transform="rotate(0.401 586.7 1845.2)">738 328O1 75O21 2371O 1O931 O78O1</text>
<text x="248.5" y="1870.0" class="st" textLength="80.9" lengthAdjust="spacingAndGlyphs" transform="rotate(0.401 248.5 1870.0)">Öhringen</text>
<text x="566.4" y="1874.7" class="ho" text-anchor="end" transform="rotate(0.401 566.4 1874.7)">276</text>
<text x="586.5" y="1870.3" class="mo" textLength="41.5" lengthAdjust="spacing" transform="rotate(0.401 586.5 1870.3)">742</text>
<text x="248.1" y="1915.8" class="st" textLength="148.8" lengthAdjust="spacingAndGlyphs" transform="rotate(0.401 248.1 1915.8)">Weißenburg/Bay.</text>
<text x="566.1" y="1919.3" class="ho" text-anchor="end" transform="rotate(0.401 566.1 1919.3)">422</text>
<text x="586.1" y="1916.2" class="mo" textLength="457.1" lengthAdjust="spacing" transform="rotate(0.401 586.1 1916.2)">761 82OO5 7OO31 21814 857<tspan class="d">––</tspan> O78O1</text>
<text x="247.9" y="1938.7" class="st" textLength="152.4" lengthAdjust="spacingAndGlyphs" transform="rotate(0.401 247.9 1938.7)">Nürnberg, Flugh.</text>
<text x="565.9" y="1942.2" class="ho" text-anchor="end" transform="rotate(0.401 565.9 1942.2)">319</text>
<text x="585.9" y="1940.6" class="mo" textLength="457.1" lengthAdjust="spacing" transform="rotate(0.401 585.9 1940.6)">763 7OOOO 75O26 21915 757<tspan class="d">––</tspan> O88O1</text>
<text x="247.7" y="1962.1" class="st" textLength="94.5" lengthAdjust="spacingAndGlyphs" transform="rotate(0.401 247.7 1962.1)">Regensburg</text>
<text x="565.7" y="1965.6" class="ho" text-anchor="end" transform="rotate(0.401 565.7 1965.6)">376</text>
<text x="585.7" y="1965.6" class="mo" textLength="457.1" lengthAdjust="spacing" transform="rotate(0.401 585.7 1965.6)">776 723O1 7OO22 22O13 756<tspan class="d">––</tspan> O98O8</text>
<text x="247.6" y="1986.5" class="st" textLength="138.6" lengthAdjust="spacingAndGlyphs" transform="rotate(0.401 247.6 1986.5)">Gr. Falkenstein</text>
<text x="565.5" y="1990.0" class="ho" textLength="38.5" lengthAdjust="spacingAndGlyphs" text-anchor="end" transform="rotate(0.401 565.5 1990.0)">1307</text>
<text x="585.5" y="1985.9" class="mo" textLength="41.5" lengthAdjust="spacing" transform="rotate(0.401 585.5 1985.9)">791</text>
<rect x="414.9" y="1974.0" width="14" height="14" fill="none" stroke="#000" stroke-width="2.3" transform="rotate(0.401 413.9 1973.4)"/>
<text x="247.2" y="2030.5" class="st" textLength="71.6" lengthAdjust="spacingAndGlyphs" transform="rotate(0.401 247.2 2030.5)">Freiburg</text>
<text x="565.2" y="2032.9" class="ho" text-anchor="end" transform="rotate(0.401 565.2 2032.9)">269</text>
<text x="585.1" y="2031.8" class="mo" textLength="457.1" lengthAdjust="spacing" transform="rotate(0.401 585.1 2031.8)">8O3 2131O 84O22 23O14 OO9O1 O78O5</text>
<text x="247.0" y="2053.9" class="st" textLength="107.9" lengthAdjust="spacingAndGlyphs" transform="rotate(0.401 247.0 2053.9)">Freudenstadt</text>
<text x="565.0" y="2056.3" class="ho" text-anchor="end" transform="rotate(0.401 565.0 2056.3)">797</text>
<text x="584.9" y="2054.1" class="mo" textLength="41.5" lengthAdjust="spacing" transform="rotate(0.401 584.9 2054.1)">815</text>
<rect x="415.0" y="2042.0" width="14" height="14" fill="none" stroke="#000" stroke-width="2.3" transform="rotate(0.401 414.0 2041.4)"/>
<text x="246.9" y="2077.4" class="st" textLength="97.5" lengthAdjust="spacingAndGlyphs" transform="rotate(0.401 246.9 2077.4)">Klippeneck</text>
<text x="564.8" y="2079.8" class="ho" text-anchor="end" transform="rotate(0.401 564.8 2079.8)">973</text>
<text x="584.6" y="2078.1" class="mo" textLength="41.5" lengthAdjust="spacing" transform="rotate(0.401 584.6 2078.1)">818</text>
<rect x="415.0" y="2065.2" width="14" height="14" fill="none" stroke="#000" stroke-width="2.3" transform="rotate(0.401 414.0 2064.6)"/>
<text x="246.7" y="2100.2" class="st" textLength="61.4" lengthAdjust="spacingAndGlyphs" transform="rotate(0.401 246.7 2100.2)">Stötten</text>
<text x="564.7" y="2102.6" class="ho" text-anchor="end" transform="rotate(0.401 564.7 2102.6)">734</text>
<text x="584.4" y="2100.0" class="mo" textLength="41.5" lengthAdjust="spacing" transform="rotate(0.401 584.4 2100.0)">836</text>
<text x="246.5" y="2123.5" class="st" textLength="34.2" lengthAdjust="spacingAndGlyphs" transform="rotate(0.401 246.5 2123.5)">Ulm</text>
<text x="564.5" y="2125.9" class="ho" text-anchor="end" transform="rotate(0.401 564.5 2125.9)">522</text>
<text x="584.2" y="2122.8" class="mo" textLength="41.5" lengthAdjust="spacing" transform="rotate(0.401 584.2 2122.8)">838</text>
<text x="246.3" y="2146.0" class="st" textLength="78.6" lengthAdjust="spacingAndGlyphs" transform="rotate(0.401 246.3 2146.0)">Augsburg</text>
<text x="564.3" y="2148.4" class="ho" text-anchor="end" transform="rotate(0.401 564.3 2148.4)">477</text>
<text x="584.0" y="2146.2" class="mo" textLength="457.1" lengthAdjust="spacing" transform="rotate(0.401 584.0 2146.2)">852 O2OO2 75O21 23711 OO9OO O88O4</text>
<text x="246.2" y="2169.6" class="st" textLength="199.4" lengthAdjust="spacingAndGlyphs" transform="rotate(0.401 246.2 2169.6)">München-Riem, Flugh.</text>
<text x="564.1" y="2172.0" class="ho" text-anchor="end" transform="rotate(0.401 564.1 2172.0)">529</text>
<text x="583.8" y="2168.7" class="mo" textLength="457.1" lengthAdjust="spacing" transform="rotate(0.401 583.8 2168.7)">866 O21O5 7OO11 24OO9 OO9OO O78O3</text>
<text x="246.0" y="2192.4" class="st" textLength="77.8" lengthAdjust="spacingAndGlyphs" transform="rotate(0.401 246.0 2192.4)">Mühldorf</text>
<text x="564.0" y="2194.8" class="ho" text-anchor="end" transform="rotate(0.401 564.0 2194.8)">401</text>
<text x="583.6" y="2191.5" class="mo" textLength="41.5" lengthAdjust="spacing" transform="rotate(0.401 583.6 2191.5)">875</text>
<text x="245.8" y="2215.3" class="st" textLength="54.2" lengthAdjust="spacingAndGlyphs" transform="rotate(0.401 245.8 2215.3)">Passau</text>
<text x="563.8" y="2217.7" class="ho" text-anchor="end" transform="rotate(0.401 563.8 2217.7)">409</text>
<text x="583.4" y="2216.5" class="mo" textLength="457.1" lengthAdjust="spacing" transform="rotate(0.401 583.4 2216.5)">893 7OOOO 65O31 23O11 757<tspan class="d">––</tspan> 1O8O1</text>
<text x="245.4" y="2261.4" class="st" textLength="135.2" lengthAdjust="spacingAndGlyphs" transform="rotate(0.401 245.4 2261.4)">Feldberg/Schw.</text>
<text x="563.4" y="2262.7" class="ho" textLength="38.5" lengthAdjust="spacingAndGlyphs" text-anchor="end" transform="rotate(0.401 563.4 2262.7)">1486</text>
<text x="583.0" y="2265.0" class="mo" textLength="457.1" lengthAdjust="spacing" transform="rotate(0.401 583.0 2265.0)">9O8 12215 86O21 562O7 OO9O1 O38O5</text>
<rect x="413.4" y="2248.9" width="14" height="14" fill="none" stroke="#000" stroke-width="2.3" transform="rotate(0.401 412.4 2248.3)"/>
<text x="245.3" y="2284.6" class="st" textLength="77.2" lengthAdjust="spacingAndGlyphs" transform="rotate(0.401 245.3 2284.6)">Konstanz</text>
<text x="563.3" y="2285.9" class="ho" text-anchor="end" transform="rotate(0.401 563.3 2285.9)">443</text>
<text x="582.8" y="2287.5" class="mo" textLength="457.1" lengthAdjust="spacing" transform="rotate(0.401 582.8 2287.5)">929 63OO2 68O11 24O13 657<tspan class="d">––</tspan> 11OOO</text>
<text x="245.1" y="2307.7" class="st" textLength="131.7" lengthAdjust="spacingAndGlyphs" transform="rotate(0.401 245.1 2307.7)">Friedrichshafen</text>
<text x="563.1" y="2309.0" class="ho" text-anchor="end" transform="rotate(0.401 563.1 2309.0)">401</text>
<text x="582.6" y="2308.1" class="mo" textLength="41.5" lengthAdjust="spacing" transform="rotate(0.401 582.6 2308.1)">934</text>
<text x="244.9" y="2331.2" class="st" textLength="159.8" lengthAdjust="spacingAndGlyphs" transform="rotate(0.401 244.9 2331.2)">Kempten-Lenzried</text>
<text x="562.9" y="2332.6" class="ho" text-anchor="end" transform="rotate(0.401 562.9 2332.6)">705</text>
<text x="582.4" y="2332.1" class="mo" textLength="457.1" lengthAdjust="spacing" transform="rotate(0.401 582.4 2332.1)">946 712O3 6OO31 25O1O 3563<tspan class="d">–</tspan> O78O2</text>
<text x="244.7" y="2353.8" class="st" textLength="92.5" lengthAdjust="spacingAndGlyphs" transform="rotate(0.401 244.7 2353.8)">Oberstdorf</text>
<text x="562.7" y="2355.1" class="ho" text-anchor="end" transform="rotate(0.401 562.7 2355.1)">810</text>
<text x="582.2" y="2354.0" class="mo" textLength="41.5" lengthAdjust="spacing" transform="rotate(0.401 582.2 2354.0)">948</text>
<rect x="413.5" y="2341.8" width="14" height="14" fill="none" stroke="#000" stroke-width="2.3" transform="rotate(0.401 412.5 2341.2)"/>
<text x="244.6" y="2376.2" class="st" textLength="85.2" lengthAdjust="spacingAndGlyphs" transform="rotate(0.401 244.6 2376.2)">Zugspitze</text>
<text x="562.6" y="2377.6" class="ho" textLength="38.5" lengthAdjust="spacingAndGlyphs" text-anchor="end" transform="rotate(0.401 562.6 2377.6)">2960</text>
<text x="582.0" y="2377.4" class="mo" textLength="457.1" lengthAdjust="spacing" transform="rotate(0.401 582.0 2377.4)">961 92823 OO494 1O253 9<tspan class="d">––––</tspan> 538O1</text>
<rect x="412.5" y="2363.8" width="15" height="14.5" fill="#000" transform="rotate(0.401 412.5 2363.8)"/>
<text x="244.4" y="2400.5" class="st" textLength="149.6" lengthAdjust="spacingAndGlyphs" transform="rotate(0.401 244.4 2400.5)">Hohenpeißenberg</text>
<text x="562.4" y="2401.8" class="ho" text-anchor="end" transform="rotate(0.401 562.4 2401.8)">977</text>
<text x="581.7" y="2399.9" class="mo" textLength="41.5" lengthAdjust="spacing" transform="rotate(0.401 581.7 2399.9)">962</text>
<rect x="413.5" y="2386.6" width="14" height="14" fill="none" stroke="#000" stroke-width="2.3" transform="rotate(0.401 412.5 2386.0)"/>
<text x="244.2" y="2423.2" class="st" textLength="209.8" lengthAdjust="spacingAndGlyphs" transform="rotate(0.401 244.2 2423.2)">Garmisch-Partenkirchen</text>
<text x="562.2" y="2424.6" class="ho" text-anchor="end" transform="rotate(0.401 562.2 2424.6)">719</text>
<text x="581.5" y="2426.8" class="mo" textLength="41.5" lengthAdjust="spacing" transform="rotate(0.401 581.5 2426.8)">963</text>
<text x="244.0" y="2446.2" class="st" textLength="105.0" lengthAdjust="spacingAndGlyphs" transform="rotate(0.401 244.0 2446.2)">Wendelstein</text>
<text x="562.0" y="2447.6" class="ho" textLength="38.5" lengthAdjust="spacingAndGlyphs" text-anchor="end" transform="rotate(0.401 562.0 2447.6)">1832</text>
<text x="581.3" y="2446.7" class="mo" textLength="41.5" lengthAdjust="spacing" transform="rotate(0.401 581.3 2446.7)">98O</text>
<rect x="413.5" y="2433.1" width="14" height="14" fill="none" stroke="#000" stroke-width="2.3" transform="rotate(0.401 412.5 2432.5)"/>
<text x="1099.9" y="376.1" class="m3" textLength="401.6" lengthAdjust="spacing" transform="rotate(0.401 1099.9 376.1)">82615 62956 14615 794<tspan class="d">––</tspan> 1471O</text>
<text x="1098.5" y="398.6" class="m3" textLength="401.6" lengthAdjust="spacing" transform="rotate(0.401 1098.5 398.6)">82711 65OO<tspan class="d">–</tspan> 13215 784<tspan class="d">––</tspan> 11711</text>
<text x="1099.0" y="421.9" class="m3" textLength="401.6" lengthAdjust="spacing" transform="rotate(0.401 1099.0 421.9)">726O6 65218 13614 756<tspan class="d">––</tspan> 137O7</text>
<text x="1097.9" y="513.8" class="m3" textLength="401.6" lengthAdjust="spacing" transform="rotate(0.401 1097.9 513.8)">72413 686O1 15915 785<tspan class="d">––</tspan> 1471O</text>
<text x="1097.9" y="560.2" class="m3" textLength="401.6" lengthAdjust="spacing" transform="rotate(0.401 1097.9 560.2)">7251O 575O2 15114 762<tspan class="d">––</tspan> 137O8</text>
<text x="1097.1" y="582.1" class="m3" textLength="401.6" lengthAdjust="spacing" transform="rotate(0.401 1097.1 582.1)">825O3 65O2<tspan class="d">–</tspan> 14814 825<tspan class="d">––</tspan> 147O2</text>
<text x="1096.2" y="628.1" class="m3" textLength="401.6" lengthAdjust="spacing" transform="rotate(0.401 1096.2 628.1)">82312 59O32 16315 5853<tspan class="d">–</tspan> 1371O</text>
<text x="1096.2" y="652.0" class="m3" textLength="401.6" lengthAdjust="spacing" transform="rotate(0.401 1096.2 652.0)">7261O 58O22 16414 7O94<tspan class="d">–</tspan> 127O7</text>
<text x="1095.7" y="766.4" class="m3" textLength="401.6" lengthAdjust="spacing" transform="rotate(0.401 1095.7 766.4)">723O4 6OO22 19O14 757<tspan class="d">––</tspan> 12711</text>
<text x="1094.3" y="810.8" class="m3" textLength="401.6" lengthAdjust="spacing" transform="rotate(0.401 1094.3 810.8)">823O7 6OO22 19215 857<tspan class="d">––</tspan> 1361O</text>
<text x="1094.3" y="858.9" class="m3" textLength="401.6" lengthAdjust="spacing" transform="rotate(0.401 1094.3 858.9)">825O8 571O2 17714 884<tspan class="d">––</tspan> 1371O</text>
<text x="1094.1" y="883.4" class="m3" textLength="401.6" lengthAdjust="spacing" transform="rotate(0.401 1094.1 883.4)">224O9 5OO31 17213 856<tspan class="d">––</tspan> 118O9</text>
<text x="1093.9" y="906.4" class="m3" textLength="401.6" lengthAdjust="spacing" transform="rotate(0.401 1093.9 906.4)">826O8 5O616 16314 4722<tspan class="d">–</tspan> 136O5</text>
<text x="1093.7" y="929.8" class="m3" textLength="401.6" lengthAdjust="spacing" transform="rotate(0.401 1093.7 929.8)">7271O 56616 16O14 773<tspan class="d">––</tspan> 137O7</text>
<text x="1093.4" y="974.7" class="m3" textLength="401.6" lengthAdjust="spacing" transform="rotate(0.401 1093.4 974.7)">721O6 62O22 2O615 5573<tspan class="d">–</tspan> 11712</text>
<text x="1092.8" y="1020.6" class="m3" textLength="401.6" lengthAdjust="spacing" transform="rotate(0.401 1092.8 1020.6)">724O7 65O22 2O114 6573<tspan class="d">–</tspan> 11712</text>
<text x="1092.6" y="1043.6" class="m3" textLength="401.6" lengthAdjust="spacing" transform="rotate(0.401 1092.6 1043.6)">9281O O3414 517O9 9<tspan class="d">––––</tspan> O97O7</text>
<text x="1091.8" y="1088.7" class="m3" textLength="401.6" lengthAdjust="spacing" transform="rotate(0.401 1091.8 1088.7)">72OO3 592O5 19513 3567<tspan class="d">–</tspan> 11711</text>
<text x="1090.7" y="1228.1" class="m3" textLength="401.6" lengthAdjust="spacing" transform="rotate(0.401 1090.7 1228.1)">421O4 7OO12 2O912 4O91O 11711</text>
<text x="1090.7" y="1297.5" class="m3" textLength="401.6" lengthAdjust="spacing" transform="rotate(0.401 1090.7 1297.5)">8OOOO 66O22 2O514 756<tspan class="d">––</tspan> 127O8</text>
<text x="1090.7" y="1342.3" class="m3" textLength="401.6" lengthAdjust="spacing" transform="rotate(0.401 1090.7 1342.3)">9281O OO454 518O9 9<tspan class="d">––––</tspan> O9711</text>
<text x="1089.9" y="1389.5" class="m3" textLength="401.6" lengthAdjust="spacing" transform="rotate(0.401 1089.9 1389.5)">524O3 68O31 21513 557OO 116O7</text>
<text x="1088.5" y="1459.0" class="m3" textLength="401.6" lengthAdjust="spacing" transform="rotate(0.401 1088.5 1459.0)">521O1 65O16 21114 2563O 138O4</text>
<text x="1087.1" y="1504.8" class="m3" textLength="401.6" lengthAdjust="spacing" transform="rotate(0.401 1087.1 1504.8)">829O3 65612 21214 855<tspan class="d">––</tspan> 136O4</text>
<text x="1087.1" y="1596.5" class="m3" textLength="401.6" lengthAdjust="spacing" transform="rotate(0.401 1087.1 1596.5)">825O6 68O22 21311 755<tspan class="d">––</tspan> O96O1</text>
<text x="1085.7" y="1711.8" class="m3" textLength="401.6" lengthAdjust="spacing" transform="rotate(0.401 1085.7 1711.8)">O16O2 62O2O 22O11 OO9OO O87O9</text>
<text x="1085.1" y="1826.0" class="m3" textLength="401.6" lengthAdjust="spacing" transform="rotate(0.401 1085.1 1826.0)">22OO1 65O2O 22O12 1O941 O87O8</text>
<text x="1085.1" y="1849.6" class="m3" textLength="401.6" lengthAdjust="spacing" transform="rotate(0.401 1085.1 1849.6)">525O2 7OO31 22511 4563<tspan class="d">–</tspan> O77O9</text>
<text x="1084.3" y="1918.7" class="m3" textLength="401.6" lengthAdjust="spacing" transform="rotate(0.401 1084.3 1918.7)">721O5 68O12 21313 756<tspan class="d">––</tspan> O77O7</text>
<text x="1084.3" y="1943.2" class="m3" textLength="401.6" lengthAdjust="spacing" transform="rotate(0.401 1084.3 1943.2)">721O3 8OO26 21114 757<tspan class="d">––</tspan> 127O9</text>
<text x="1084.3" y="1968.5" class="m3" textLength="401.6" lengthAdjust="spacing" transform="rotate(0.401 1084.3 1968.5)">721O3 7OO22 21613 756<tspan class="d">––</tspan> O97O3</text>
<text x="1084.1" y="1989.6" class="m3" textLength="401.6" lengthAdjust="spacing" transform="rotate(0.401 1084.1 1989.6)">8271O 7OO28 536O7 823<tspan class="d">––</tspan> O4715</text>
<text x="1083.4" y="2034.5" class="m3" textLength="401.6" lengthAdjust="spacing" transform="rotate(0.401 1083.4 2034.5)">417O1 82O2O 22712 1O941 O76O5</text>
<text x="1081.8" y="2149.0" class="m3" textLength="401.6" lengthAdjust="spacing" transform="rotate(0.401 1081.8 2149.0)">328O7 65O2O 23O1O 3O93O O87O7</text>
<text x="1081.8" y="2172.1" class="m3" textLength="401.6" lengthAdjust="spacing" transform="rotate(0.401 1081.8 2172.1)">722O5 65O31 232O9 7O93<tspan class="d">–</tspan> O77O8</text>
<text x="1081.3" y="2219.3" class="m3" textLength="401.6" lengthAdjust="spacing" transform="rotate(0.401 1081.3 2219.3)">8O6O2 65O32 22O1O 857<tspan class="d">––</tspan> O9711</text>
<text x="1081.8" y="2267.7" class="m3" textLength="401.6" lengthAdjust="spacing" transform="rotate(0.401 1081.8 2267.7)">52318 84O31 551O7 1O841 O3712</text>
<text x="1081.3" y="2288.7" class="m3" textLength="401.6" lengthAdjust="spacing" transform="rotate(0.401 1081.3 2288.7)">728O1 62O31 23411 157O1 O9711</text>
<text x="1081.3" y="2334.5" class="m3" textLength="401.6" lengthAdjust="spacing" transform="rotate(0.401 1081.3 2334.5)">716O3 5O1O2 24O1O 7O93<tspan class="d">–</tspan> O77O9</text>
<text x="1081.3" y="2380.9" class="m3" textLength="401.6" lengthAdjust="spacing" transform="rotate(0.401 1081.3 2380.9)">72522 O2484 O9854 65<tspan class="d">–––</tspan> 547O4</text>
<text x="1080.7" y="2451.1" class="m3" textLength="401.6" lengthAdjust="spacing" transform="rotate(0.401 1080.7 2451.1)">52714 82O21 55OO5 2544O O171O</text>
<text x="1714.8" y="376.2" class="rr" textLength="62.8" lengthAdjust="spacing" transform="rotate(0.401 1714.8 376.2)">792<tspan class="d2">––</tspan></text>
<text x="1714.8" y="420.8" class="rr" textLength="62.8" lengthAdjust="spacing" transform="rotate(0.401 1714.8 420.8)">7o2<tspan class="d2">––</tspan></text>
<text x="1714.8" y="517.8" class="rr" textLength="62.8" lengthAdjust="spacing" transform="rotate(0.401 1714.8 517.8)">7o1<tspan class="d2">––</tspan></text>
<text x="1714.8" y="564.3" class="rr" textLength="62.8" lengthAdjust="spacing" transform="rotate(0.401 1714.8 564.3)">7o3<tspan class="d2">––</tspan></text>
<text x="1714.8" y="628.3" class="rr" textLength="62.8" lengthAdjust="spacing" transform="rotate(0.401 1714.8 628.3)">7oo<tspan class="d2">––</tspan></text>
<text x="1714.8" y="661.2" class="rr" textLength="62.8" lengthAdjust="spacing" transform="rotate(0.401 1714.8 661.2)">7o1<tspan class="d2">––</tspan></text>
<text x="1714.8" y="772.7" class="rr" textLength="62.8" lengthAdjust="spacing" transform="rotate(0.401 1714.8 772.7)">797<tspan class="d2">––</tspan></text>
<text x="1714.5" y="859.5" class="rr" textLength="62.8" lengthAdjust="spacing" transform="rotate(0.401 1714.5 859.5)">7o4<tspan class="d2">––</tspan></text>
<text x="1714.5" y="888.2" class="rr" textLength="62.8" lengthAdjust="spacing" transform="rotate(0.401 1714.5 888.2)">7o1<tspan class="d2">––</tspan></text>
<text x="1714.5" y="917.7" class="rr" textLength="62.8" lengthAdjust="spacing" transform="rotate(0.401 1714.5 917.7)">797<tspan class="d2">––</tspan></text>
<text x="1714.5" y="939.6" class="rr" textLength="62.8" lengthAdjust="spacing" transform="rotate(0.401 1714.5 939.6)">797<tspan class="d2">––</tspan></text>
<text x="1714.5" y="985.1" class="rr" textLength="62.8" lengthAdjust="spacing" transform="rotate(0.401 1714.5 985.1)">7oo<tspan class="d2">––</tspan></text>
<text x="1714.5" y="1031.5" class="rr" textLength="62.8" lengthAdjust="spacing" transform="rotate(0.401 1714.5 1031.5)">797<tspan class="d2">––</tspan></text>
<text x="1714.5" y="1054.3" class="rr" textLength="62.8" lengthAdjust="spacing" transform="rotate(0.401 1714.5 1054.3)">7o1<tspan class="d2">––</tspan></text>
<text x="1714.0" y="1095.7" class="rr" textLength="62.8" lengthAdjust="spacing" transform="rotate(0.401 1714.0 1095.7)">7o4<tspan class="d2">––</tspan></text>
<text x="1714.0" y="1239.9" class="rr" textLength="62.8" lengthAdjust="spacing" transform="rotate(0.401 1714.0 1239.9)">7oo<tspan class="d2">––</tspan></text>
<text x="1714.0" y="1306.5" class="rr" textLength="62.8" lengthAdjust="spacing" transform="rotate(0.401 1714.0 1306.5)">7o1<tspan class="d2">––</tspan></text>
<text x="1714.0" y="1346.9" class="rr" textLength="62.8" lengthAdjust="spacing" transform="rotate(0.401 1714.0 1346.9)">7o2<tspan class="d2">––</tspan></text>
<text x="1714.0" y="1396.7" class="rr" textLength="62.8" lengthAdjust="spacing" transform="rotate(0.401 1714.0 1396.7)">7oo<tspan class="d2">––</tspan></text>
<text x="1713.2" y="1461.7" class="rr" textLength="62.8" lengthAdjust="spacing" transform="rotate(0.401 1713.2 1461.7)">793<tspan class="d2">––</tspan></text>
<text x="1713.2" y="1511.5" class="rr" textLength="62.8" lengthAdjust="spacing" transform="rotate(0.401 1713.2 1511.5)">797<tspan class="d2">––</tspan></text>
<text x="1713.2" y="1608.4" class="rr" textLength="62.8" lengthAdjust="spacing" transform="rotate(0.401 1713.2 1608.4)">794<tspan class="d2">––</tspan></text>
<text x="1713.2" y="1721.4" class="rr" textLength="62.8" lengthAdjust="spacing" transform="rotate(0.401 1713.2 1721.4)">7oo<tspan class="d2">––</tspan></text>
<text x="1712.3" y="1836.2" class="rr" textLength="62.8" lengthAdjust="spacing" transform="rotate(0.401 1712.3 1836.2)">7<tspan class="d2">––––</tspan></text>
<text x="1712.3" y="1858.9" class="rr" textLength="62.8" lengthAdjust="spacing" transform="rotate(0.401 1712.3 1858.9)">7oo<tspan class="d2">––</tspan></text>
<text x="1712.3" y="1919.6" class="rr" textLength="62.8" lengthAdjust="spacing" transform="rotate(0.401 1712.3 1919.6)">7oo<tspan class="d2">––</tspan></text>
<text x="1712.3" y="1947.5" class="rr" textLength="62.8" lengthAdjust="spacing" transform="rotate(0.401 1712.3 1947.5)">797<tspan class="d2">––</tspan></text>
<text x="1712.3" y="1977.0" class="rr" textLength="62.8" lengthAdjust="spacing" transform="rotate(0.401 1712.3 1977.0)">7oo<tspan class="d2">––</tspan></text>
<text x="1712.3" y="2046.9" class="rr" textLength="62.8" lengthAdjust="spacing" transform="rotate(0.401 1712.3 2046.9)">7oo<tspan class="d2">––</tspan></text>
<text x="1712.0" y="2160.9" class="rr" textLength="62.8" lengthAdjust="spacing" transform="rotate(0.401 1712.0 2160.9)">7oo<tspan class="d2">––</tspan></text>
<text x="1712.0" y="2186.2" class="rr" textLength="62.8" lengthAdjust="spacing" transform="rotate(0.401 1712.0 2186.2)">7oo<tspan class="d2">––</tspan></text>
<text x="1712.0" y="2228.8" class="rr" textLength="62.8" lengthAdjust="spacing" transform="rotate(0.401 1712.0 2228.8)">7oo<tspan class="d2">––</tspan></text>
<text x="1712.0" y="2273.8" class="rr" textLength="62.8" lengthAdjust="spacing" transform="rotate(0.401 1712.0 2273.8)">7oo<tspan class="d2">––</tspan></text>
<text x="1712.0" y="2301.7" class="rr" textLength="62.8" lengthAdjust="spacing" transform="rotate(0.401 1712.0 2301.7)">7oo<tspan class="d2">––</tspan></text>
<text x="1712.0" y="2346.4" class="rr" textLength="62.8" lengthAdjust="spacing" transform="rotate(0.401 1712.0 2346.4)">7oo<tspan class="d2">––</tspan></text>
<text x="1541.1" y="372.0" class="rr" textLength="62.8" lengthAdjust="spacing" transform="rotate(0.401 1541.1 372.0)"><tspan class="d2">–––</tspan>26</text>
<text x="1539.5" y="1047.5" class="rr" textLength="62.8" lengthAdjust="spacing" transform="rotate(0.401 1539.5 1047.5)"><tspan class="d2">–––</tspan>31</text>
<text x="1611.1" y="2389.4" class="rr" textLength="62.8" lengthAdjust="spacing" transform="rotate(0.401 1611.1 2389.4)">22<tspan class="d2">–––</tspan></text>
<polyline points="535.6,359.5 523.2,1880.0 517.4,2745.5" fill="none" stroke="#000" stroke-width="2.3"/>
<line x1="585.0" y1="360.3" x2="573.1" y2="1879.2" stroke="#000" stroke-width="2.3"/>
<line x1="573.1" y1="1891.2" x2="566.0" y2="2745.5" stroke="#000" stroke-width="2.3"/>
<line x1="244.5" y1="2752.4" x2="1774.0" y2="2760.2" stroke="#000" stroke-width="2.6"/>
<text x="244.2" y="2780.5" class="foot" textLength="20.4" lengthAdjust="spacingAndGlyphs" transform="rotate(0.401 244.2 2780.5)">Bei</text>
<text x="272.9" y="2780.6" class="foot" textLength="66.6" lengthAdjust="spacingAndGlyphs" transform="rotate(0.401 272.9 2780.6)">Flughäfen</text>
<text x="345.4" y="2781.0" class="foot" transform="rotate(0.401 345.4 2781.0)">:</text>
<text x="362.9" y="2781.1" class="foot" textLength="35.4" lengthAdjust="spacingAndGlyphs" transform="rotate(0.401 362.9 2781.1)">Höhe</text>
<text x="405.4" y="2781.3" class="foot" transform="rotate(0.401 405.4 2781.3)">=</text>
<text x="422.9" y="2781.4" class="foot" textLength="65.3" lengthAdjust="spacingAndGlyphs" transform="rotate(0.401 422.9 2781.4)">offizielle</text>
<text x="494.2" y="2781.8" class="foot" textLength="99.1" lengthAdjust="spacingAndGlyphs" transform="rotate(0.401 494.2 2781.8)">Flugplatzhöhe</text>
</svg></body></html>
